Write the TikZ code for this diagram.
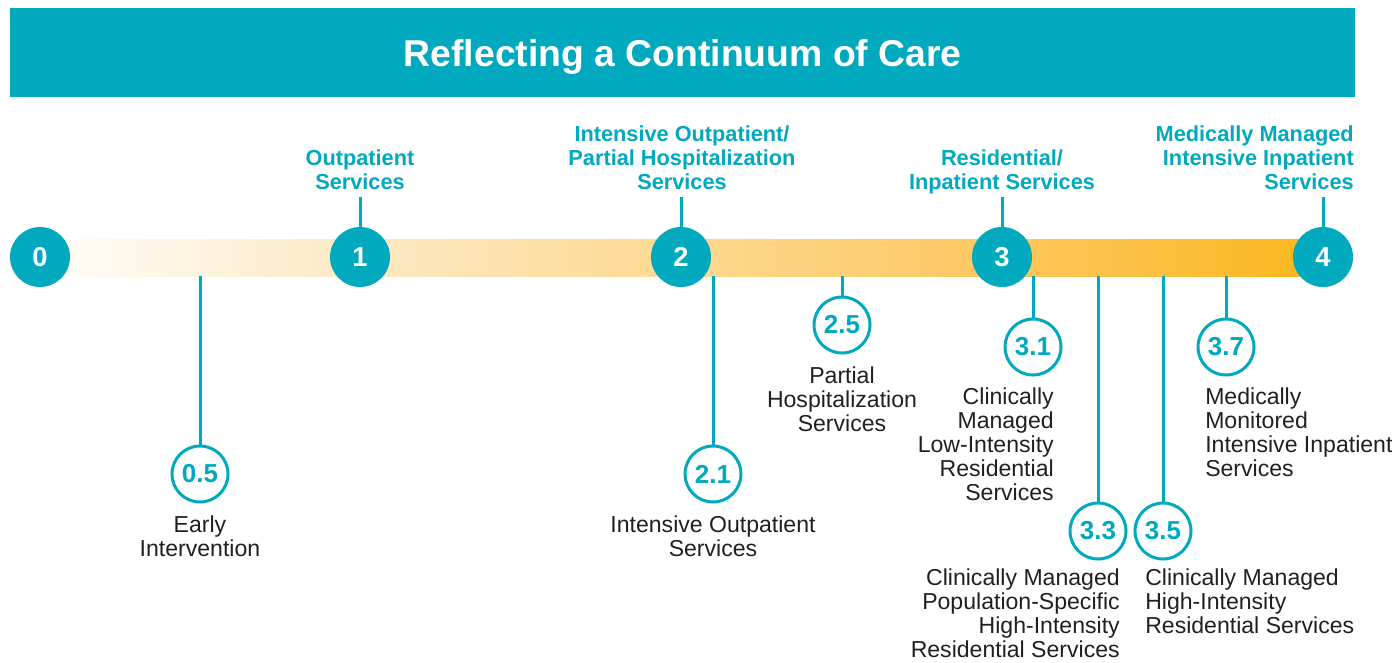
\documentclass[tikz,border=0pt]{standalone}
\usepackage{fontspec}
\setmainfont{Liberation Sans}
\definecolor{teal}{RGB}{0,169,190}
\definecolor{ink}{RGB}{35,31,32}
\definecolor{ga}{RGB}{255,254,251}
\definecolor{gb}{RGB}{252,233,195}
\definecolor{gc}{RGB}{253,217,145}
\definecolor{gd}{RGB}{253,199,95}
\definecolor{ge}{RGB}{251,182,28}
\tikzset{
  mainc/.style={circle, fill=teal, minimum size=45pt, inner sep=0pt, text=white, font=\bfseries\fontsize{20.5}{20.5}\selectfont},
  subc/.style={circle, draw=teal, line width=2.25pt, fill=white, minimum size=42pt, inner sep=0pt, text=teal, font=\bfseries\fontsize{19.5}{19.5}\selectfont},
  head/.style={inner sep=0pt, text=teal, font=\bfseries\fontsize{16.3}{18}\selectfont},
  body/.style={inner sep=0pt, text=ink, font=\fontsize{17.3}{18}\selectfont},
  conn/.style={draw=teal, line width=2.25pt},
}
\begin{document}
\begin{tikzpicture}[x=0.75pt,y=-0.75pt]
\useasboundingbox (0,0) rectangle (1392,662);
% title bar
\node[fill=teal, minimum width=1345*0.75pt, minimum height=89*0.75pt, inner sep=0pt, anchor=north west, text=white, text height=20pt, text depth=0pt, font=\bfseries\fontsize{28}{28}\selectfont] (title) at (10,8) {Reflecting a Continuum of Care};
% gradient bar
\shade[left color=ga, right color=gb] (40,239) rectangle (360,276);
\shade[left color=gb, right color=gc] (359.5,239) rectangle (681,276);
\shade[left color=gc, right color=gd] (680.5,239) rectangle (1002,276);
\shade[left color=gd, right color=ge] (1001.5,239) rectangle (1323,276);
% main circles
\node[mainc] (c0) at (40,257) {0};
\node[mainc] (c1) at (360,257) {1};
\node[mainc] (c2) at (681,257) {2};
\node[mainc] (c3) at (1002,257) {3};
\node[mainc] (c4) at (1323,257) {4};
% upper labels
\node[head, anchor=north, align=center] (h1) at (360,149) {Outpatient\\Services};
\node[head, anchor=north, align=center] (h2) at (682,125) {Intensive Outpatient/\\Partial Hospitalization\\Services};
\node[head, anchor=north, align=center] (h3) at (1002,149) {Residential/\\Inpatient Services};
\node[head, anchor=north east, align=right] (h4) at (1354,125) {Medically Managed\\Intensive Inpatient\\Services};
\coordinate (t1) at (360,197);
\coordinate (t2) at (681,197);
\coordinate (t3) at (1002,197);
\coordinate (t4) at (1323,197);
\draw[conn] (t1) -- (c1.north);
\draw[conn] (t2) -- (c2.north);
\draw[conn] (t3) -- (c3.north);
\draw[conn] (t4) -- (c4.north);
% sub circles
\node[subc] (s05) at (200,474) {0.5};
\node[subc] (s21) at (713,474) {2.1};
\node[subc] (s25) at (842,325) {2.5};
\node[subc] (s31) at (1033,347) {3.1};
\node[subc] (s33) at (1098,531) {3.3};
\node[subc] (s35) at (1163,531) {3.5};
\node[subc] (s37) at (1226,347) {3.7};
\coordinate (b05) at (200,276);
\coordinate (b21) at (713,276);
\coordinate (b25) at (842,276);
\coordinate (b31) at (1033,276);
\coordinate (b33) at (1098,276);
\coordinate (b35) at (1163,276);
\coordinate (b37) at (1226,276);
\draw[conn] (b05) -- (s05.north);
\draw[conn] (b21) -- (s21.north);
\draw[conn] (b25) -- (s25.north);
\draw[conn] (b31) -- (s31.north);
\draw[conn] (b33) -- (s33.north);
\draw[conn] (b35) -- (s35.north);
\draw[conn] (b37) -- (s37.north);
% body labels
\node[body, anchor=north, align=center] (l05) at (200,516) {Early\\Intervention};
\node[body, anchor=north, align=center] (l21) at (713,516) {Intensive Outpatient\\Services};
\node[body, anchor=north, align=center] (l25) at (842,367) {Partial\\Hospitalization\\Services};
\node[body, anchor=north east, align=right] (l31) at (1054,388) {Clinically\\Managed\\Low-Intensity\\Residential\\Services};
\node[body, anchor=north east, align=right] (l33) at (1120,569) {Clinically Managed\\Population-Specific\\High-Intensity\\Residential Services};
\node[body, anchor=north west, align=left] (l35) at (1145,569) {Clinically Managed\\High-Intensity\\Residential Services};
\node[body, anchor=north west, align=left] (l37) at (1205,388) {Medically\\Monitored\\Intensive Inpatient\\Services};
\end{tikzpicture}
\end{document}
